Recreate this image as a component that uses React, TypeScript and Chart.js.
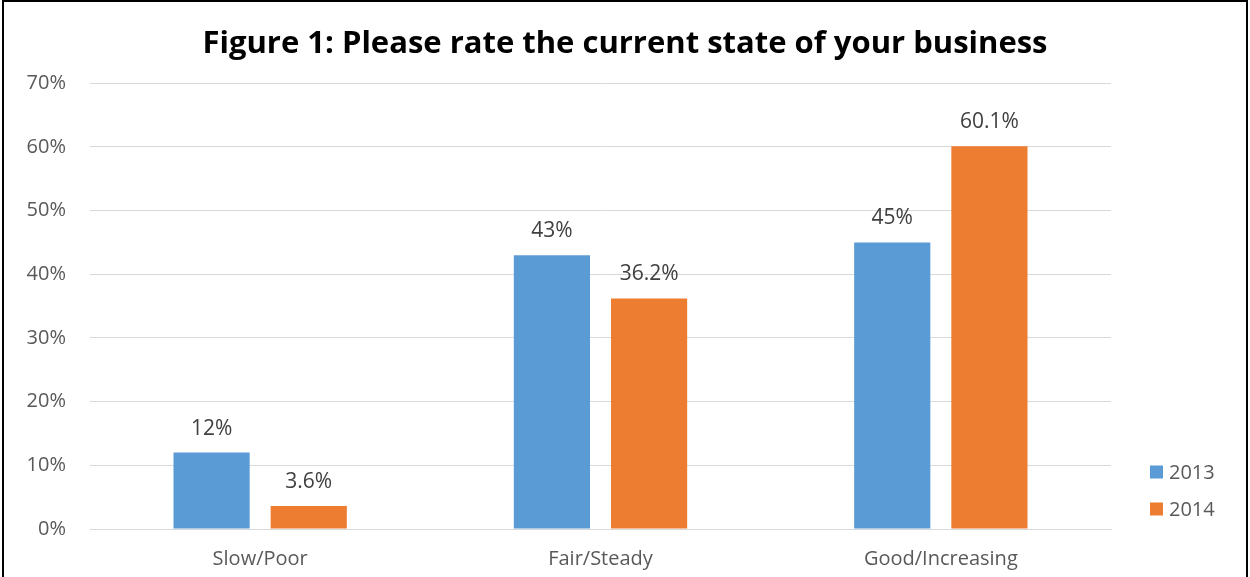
import React, { useEffect, useRef } from "react";
import { Chart, registerables } from "chart.js";

Chart.register(...registerables);

const categories = ["Slow/Poor", "Fair/Steady", "Good/Increasing"];
const seriesNames = ["2013", "2014"];
const values2013 = [12, 43, 45];
const values2014 = [3.6, 36.2, 60.1];
const labels2013 = ["12%", "43%", "45%"];
const labels2014 = ["3.6%", "36.2%", "60.1%"];
const yTicks = [0, 10, 20, 30, 40, 50, 60, 70];
const titleText = "Figure 1: Please rate the current state of your business";

const colors = ["#5B9BD5", "#ED7D31"];
const FONT = "'Open Sans', 'DejaVu Sans', sans-serif";

export default function App() {
  const ref = useRef<HTMLCanvasElement | null>(null);

  useEffect(() => {
    if (!ref.current) return;
    const valueLabels = [labels2013, labels2014];

    const labelPlugin = {
      id: "valueLabels",
      afterDatasetsDraw(chart: any) {
        const ctx = chart.ctx;
        ctx.save();
        ctx.font = `21px ${FONT}`;
        ctx.fillStyle = "#404040";
        ctx.textAlign = "center";
        ctx.textBaseline = "middle";
        chart.data.datasets.forEach((ds: any, di: number) => {
          const meta = chart.getDatasetMeta(di);
          meta.data.forEach((bar: any, i: number) => {
            ctx.fillText(valueLabels[di][i], bar.x, bar.y - 24);
          });
        });
        ctx.restore();
      },
    };

    const legendPlugin = {
      id: "customLegend",
      afterDraw(chart: any) {
        const ctx = chart.ctx;
        const area = chart.chartArea;
        ctx.save();
        ctx.font = `20px ${FONT}`;
        ctx.textBaseline = "middle";
        ctx.textAlign = "left";
        const offsets = [57, 20];
        chart.data.datasets.forEach((ds: any, di: number) => {
          const cy = area.bottom - offsets[di];
          const x = area.right + 39;
          ctx.fillStyle = ds.backgroundColor;
          ctx.fillRect(x, cy - 6.5, 13, 13);
          ctx.fillStyle = "#595959";
          ctx.fillText(ds.label, x + 19, cy + 1);
        });
        ctx.restore();
      },
    };

    const chart = new Chart(ref.current, {
      type: "bar",
      data: {
        labels: categories,
        datasets: [
          {
            label: seriesNames[0],
            data: values2013,
            backgroundColor: colors[0],
            categoryPercentage: 0.571,
            barPercentage: 0.784,
          },
          {
            label: seriesNames[1],
            data: values2014,
            backgroundColor: colors[1],
            categoryPercentage: 0.571,
            barPercentage: 0.784,
          },
        ],
      },
      options: {
        responsive: false,
        animation: false,
        layout: { padding: { left: 0, right: 0, top: 0, bottom: 0 } },
        plugins: {
          legend: { display: false },
          tooltip: { enabled: false },
          title: {
            display: true,
            text: titleText,
            color: "#000000",
            font: { family: FONT, size: 31, weight: "bold" },
            padding: { top: 26, bottom: 20 },
          },
        },
        scales: {
          x: {
            grid: { display: false, drawTicks: false },
            border: { display: true, color: "#D9D9D9", width: 1 },
            ticks: { color: "#595959", font: { family: FONT, size: 20 }, padding: 18 },
            afterFit: (scale: any) => {
              scale.height = 48;
            },
          },
          y: {
            min: 0,
            max: 70,
            afterBuildTicks: (scale: any) => {
              scale.ticks = yTicks.map((v) => ({ value: v }));
            },
            grid: { color: "#D9D9D9", drawTicks: false, lineWidth: 1 },
            border: { display: false },
            ticks: {
              color: "#595959",
              font: { family: FONT, size: 20 },
              padding: 24,
              callback: (v: any) => `${v}%`,
            },
            afterFit: (scale: any) => {
              scale.width = 90;
            },
          },
          legendSpace: {
            position: "right",
            display: true,
            grid: { display: false, drawTicks: false },
            border: { display: false },
            ticks: { display: false },
            afterFit: (scale: any) => {
              scale.width = 139;
            },
          },
        },
      },
      plugins: [labelPlugin, legendPlugin],
    });
    return () => chart.destroy();
  }, []);

  return (
    <div style={{ position: "absolute", left: 0, top: 0, width: 1250, height: 577, background: "#fff", overflow: "hidden" }}>
      <canvas ref={ref} width={1250} height={577} style={{ position: "absolute", left: 0, top: 0 }} />
      <div
        style={{
          position: "absolute",
          left: 2,
          top: 0,
          width: 1242,
          height: 600,
          borderLeft: "2px solid #000",
          borderTop: "2px solid #000",
          borderRight: "2px solid #000",
          pointerEvents: "none",
        }}
      />
    </div>
  );
}
